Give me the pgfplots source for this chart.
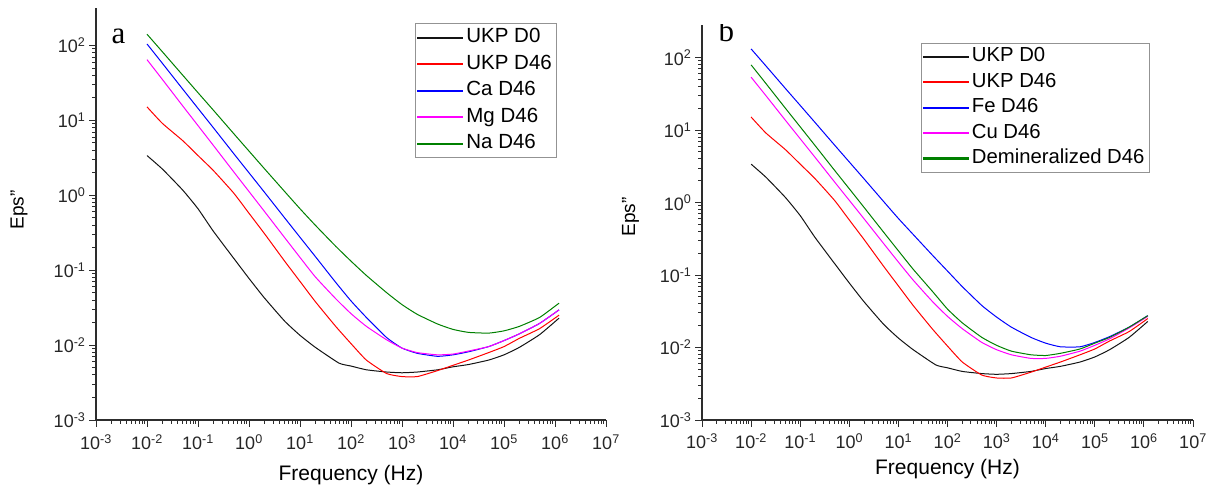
\documentclass[border=0pt]{standalone}
\usepackage{pgfplots}
\usepackage{pgfplotstable}
\pgfplotsset{compat=1.18}
\usepackage{fontspec}
\setmainfont{Liberation Sans}
\newfontfamily\serif{Liberation Serif}

\definecolor{cgreen}{RGB}{0,128,0}
\definecolor{cmag}{RGB}{255,0,255}
\definecolor{cblue}{RGB}{0,0,255}
\definecolor{cred}{RGB}{255,0,0}
\definecolor{cblack}{RGB}{20,20,20}
\definecolor{axisgray}{RGB}{45,45,45}

% ---------------- data: frequency (Hz), Eps'' ----------------
\pgfplotstableread{
f e
0.01 3.39
0.02 2.24
0.05 1.175
0.1 0.661
0.2 0.331
0.5 0.1445
1 0.0776
2 0.0427
5 0.0209
10 0.0135
20 0.00933
58 0.00575
100 0.00525
200 0.00468
500 0.00437
1000 0.00427
2000 0.00437
5000 0.00468
1e4 0.00513
2e4 0.0055
5e4 0.00631
1e5 0.00741
2e5 0.00933
5e5 0.0138
1.2e6 0.0229
}\ukpzero
\pgfplotstableread{
f e
0.01 15.14
0.02 9.12
0.05 5.37
0.1 3.39
0.2 2.14
0.5 1.072
1 0.575
2 0.309
5 0.132
10 0.0708
20 0.038
50 0.0178
100 0.01047
200 0.00631
500 0.00417
1000 0.0038
2000 0.0038
5000 0.00457
1e4 0.00537
2e4 0.00631
5e4 0.00794
1e5 0.00955
2e5 0.0123
5e5 0.0166
1.2e6 0.0251
}\ukpfs
\pgfplotstableread{
f e
0.01 104.7
0.02 57.8
0.05 26.2
0.1 14.45
0.2 7.98
0.5 3.61
1 1.995
2 1.102
5 0.499
10 0.275
20 0.152
50 0.0689
100 0.0389
200 0.0234
500 0.0126
1000 0.00912
2000 0.00776
5000 0.00708
1e4 0.00741
2e4 0.00813
5e4 0.00955
1e5 0.01148
2e5 0.01413
5e5 0.0195
1.2e6 0.0295
}\cadata
\pgfplotstableread{
f e
0.01 64.6
0.02 35.2
0.05 15.63
0.1 8.51
0.2 4.63
0.5 2.06
1 1.122
2 0.611
5 0.272
10 0.148
20 0.0813
50 0.0417
100 0.0263
200 0.0178
500 0.01175
1000 0.00912
2000 0.00794
5000 0.00741
1e4 0.00759
2e4 0.00832
5e4 0.00955
1e5 0.01148
2e5 0.01413
5e5 0.0195
1.2e6 0.0295
}\mgdata
\pgfplotstableread{
f e
0.01 141.3
0.02 82.4
0.05 40.2
0.1 23.4
0.2 13.68
0.5 6.67
1 3.89
2 2.27
5 1.122
10 0.661
20 0.398
50 0.209
100 0.132
200 0.0851
500 0.0501
1000 0.0347
2000 0.0257
5000 0.0191
1e4 0.0162
2e4 0.01479
5e4 0.01445
1e5 0.01549
2e5 0.01778
5e5 0.0234
1.2e6 0.0363
}\nadata
\pgfplotstableread{
f e
0.01 131.8
0.02 76.9
0.05 37.5
0.1 21.9
0.2 12.76
0.5 6.22
1 3.63
2 2.12
5 1.033
10 0.603
20 0.363
50 0.186
100 0.1135
200 0.0692
500 0.038
1000 0.0263
2000 0.0191
5000 0.0138
1e4 0.01148
2e4 0.01023
5e4 0.01023
1e5 0.01175
2e5 0.01413
5e5 0.0191
1.2e6 0.0275
}\fedata
\pgfplotstableread{
f e
0.01 53.7
0.02 29.9
0.05 13.65
0.1 7.59
0.2 4.22
0.5 1.928
1 1.072
2 0.596
5 0.272
10 0.151
20 0.0851
50 0.0427
100 0.0269
200 0.0182
500 0.01175
1000 0.00933
2000 0.00794
5000 0.00708
1e4 0.00708
2e4 0.00759
5e4 0.00891
1e5 0.01072
2e5 0.01318
5e5 0.0186
1.2e6 0.0269
}\cudata
\pgfplotstableread{
f e
0.01 79.4
0.02 44.0
0.05 20.0
0.1 11.09
0.2 6.14
0.5 2.79
1 1.549
2 0.857
5 0.39
10 0.216
20 0.1202
50 0.0589
100 0.0339
200 0.0219
500 0.0138
1000 0.01072
2000 0.00891
5000 0.00794
1e4 0.00776
2e4 0.00832
5e4 0.00955
1e5 0.01148
2e5 0.0138
5e5 0.0191
1.2e6 0.0275
}\demdata

\begin{document}
\begin{tikzpicture}
\path[use as bounding box] (0pt,0pt) rectangle (1212pt,486pt);

% ---------------- panel a ----------------
\begin{axis}[
  scale only axis,
  xmode=log, ymode=log,
  xmin=1e-3, xmax=1e7, ymin=1e-3, ymax=316.2,
  at={(96pt,66pt)}, anchor=south west,
  width=510pt, height=412pt,
  axis x line*=bottom, axis y line*=left,
  axis line style={axisgray, line width=1.2pt},
  tick align=outside,
  major tick length=7pt, minor tick length=4pt,
  every tick/.style={axisgray, line width=0.9pt},
  xtick={1e-3,1e-2,1e-1,1,1e1,1e2,1e3,1e4,1e5,1e6,1e7},
  xticklabels={10\textsuperscript{-3},10\textsuperscript{-2},10\textsuperscript{-1},10\textsuperscript{0},10\textsuperscript{1},10\textsuperscript{2},10\textsuperscript{3},10\textsuperscript{4},10\textsuperscript{5},10\textsuperscript{6},10\textsuperscript{7}},
  ytick={1e-3,1e-2,1e-1,1,1e1,1e2},
  yticklabels={10\textsuperscript{-3},10\textsuperscript{-2},10\textsuperscript{-1},10\textsuperscript{0},10\textsuperscript{1},10\textsuperscript{2}},
  ticklabel style={font=\fontsize{18}{20}\selectfont, text=black!85},
  xticklabel style={yshift=-4pt},
  xlabel={Frequency (Hz)},
  ylabel={Eps"},
  xlabel style={font=\fontsize{21}{24}\selectfont, anchor=base, at={(axis description cs:0.5,-0.1473)}},
  ylabel style={font=\fontsize{19}{22}\selectfont, anchor=center, at={(axis description cs:-0.151,0.51)}},
  legend cell align=left,
  legend image code/.code={\fill[#1] (0pt,-0.55pt) rectangle (45pt,0.55pt);},
  legend style={at={(axis description cs:0.6255,0.9636)}, anchor=north west,
    draw=gray!85, line width=0.8pt, fill=white,
    font=\fontsize{20.5}{24}\selectfont,
    inner xsep=2pt, inner ysep=1pt, row sep=0pt,
    nodes={inner xsep=3pt, inner ysep=3.5pt, text height=15pt, text depth=4.5pt}},
]
\addplot[cblack, line width=1pt, smooth, tension=0.3] table[x=f, y=e] {\ukpzero};
\addlegendentry{UKP D0}
\addplot[cred, line width=1pt, smooth, tension=0.3] table[x=f, y=e] {\ukpfs};
\addlegendentry{UKP D46}
\addplot[cblue, line width=1pt, smooth, tension=0.3] table[x=f, y=e] {\cadata};
\addlegendentry{Ca D46}
\addplot[cmag, line width=1pt, smooth, tension=0.3] table[x=f, y=e] {\mgdata};
\addlegendentry{Mg D46}
\addplot[cgreen, line width=1pt, smooth, tension=0.3] table[x=f, y=e] {\nadata};
\addlegendentry{Na D46}
\node[anchor=base west, font=\serif\fontsize{31}{31}\selectfont] at (axis description cs:0.0235,0.915) {a};
\end{axis}

% ---------------- panel b ----------------
\begin{axis}[
  scale only axis,
  xmode=log, ymode=log,
  xmin=1e-3, xmax=1e7, ymin=1e-3, ymax=281.8,
  at={(702pt,66pt)}, anchor=south west,
  width=491pt, height=395pt,
  axis x line*=bottom, axis y line*=left,
  axis line style={axisgray, line width=1.2pt},
  tick align=outside,
  major tick length=7pt, minor tick length=4pt,
  every tick/.style={axisgray, line width=0.9pt},
  xtick={1e-3,1e-2,1e-1,1,1e1,1e2,1e3,1e4,1e5,1e6,1e7},
  xticklabels={10\textsuperscript{-3},10\textsuperscript{-2},10\textsuperscript{-1},10\textsuperscript{0},10\textsuperscript{1},10\textsuperscript{2},10\textsuperscript{3},10\textsuperscript{4},10\textsuperscript{5},10\textsuperscript{6},10\textsuperscript{7}},
  ytick={1e-3,1e-2,1e-1,1,1e1,1e2},
  yticklabels={10\textsuperscript{-3},10\textsuperscript{-2},10\textsuperscript{-1},10\textsuperscript{0},10\textsuperscript{1},10\textsuperscript{2}},
  ticklabel style={font=\fontsize{18}{20}\selectfont, text=black!85},
  xticklabel style={yshift=-3pt},
  xlabel={Frequency (Hz)},
  ylabel={Eps"},
  xlabel style={font=\fontsize{21}{24}\selectfont, anchor=base, at={(axis description cs:0.5,-0.139)}},
  ylabel style={font=\fontsize{19}{22}\selectfont, anchor=center, at={(axis description cs:-0.1456,0.514)}},
  legend cell align=left,
  legend image code/.code={\fill[#1] (0pt,-0.55pt) rectangle (45pt,0.55pt);},
  legend style={at={(axis description cs:0.446,0.955)}, anchor=north west,
    draw=gray!85, line width=0.8pt, fill=white,
    font=\fontsize{20.3}{23}\selectfont,
    inner xsep=1.5pt, inner ysep=1pt, row sep=0pt,
    nodes={inner xsep=3pt, inner ysep=3.3pt, text height=14.5pt, text depth=4.3pt}},
]
\addplot[cblack, line width=1pt, smooth, tension=0.3] table[x=f, y=e] {\ukpzero};
\addlegendentry{UKP D0}
\addplot[cred, line width=1pt, smooth, tension=0.3] table[x=f, y=e] {\ukpfs};
\addlegendentry{UKP D46}
\addplot[cblue, line width=1pt, smooth, tension=0.3] table[x=f, y=e] {\fedata};
\addlegendentry{Fe D46}
\addplot[cmag, line width=1pt, smooth, tension=0.3] table[x=f, y=e] {\cudata};
\addlegendentry{Cu D46}
\addplot[cgreen, line width=1pt, smooth, tension=0.3] table[x=f, y=e] {\demdata};
\addlegendentry{Demineralized D46}
\node[anchor=base west, font=\serif\fontsize{31}{31}\selectfont] at (axis description cs:0.0265,0.957) {b};
\end{axis}
\end{tikzpicture}
\end{document}
